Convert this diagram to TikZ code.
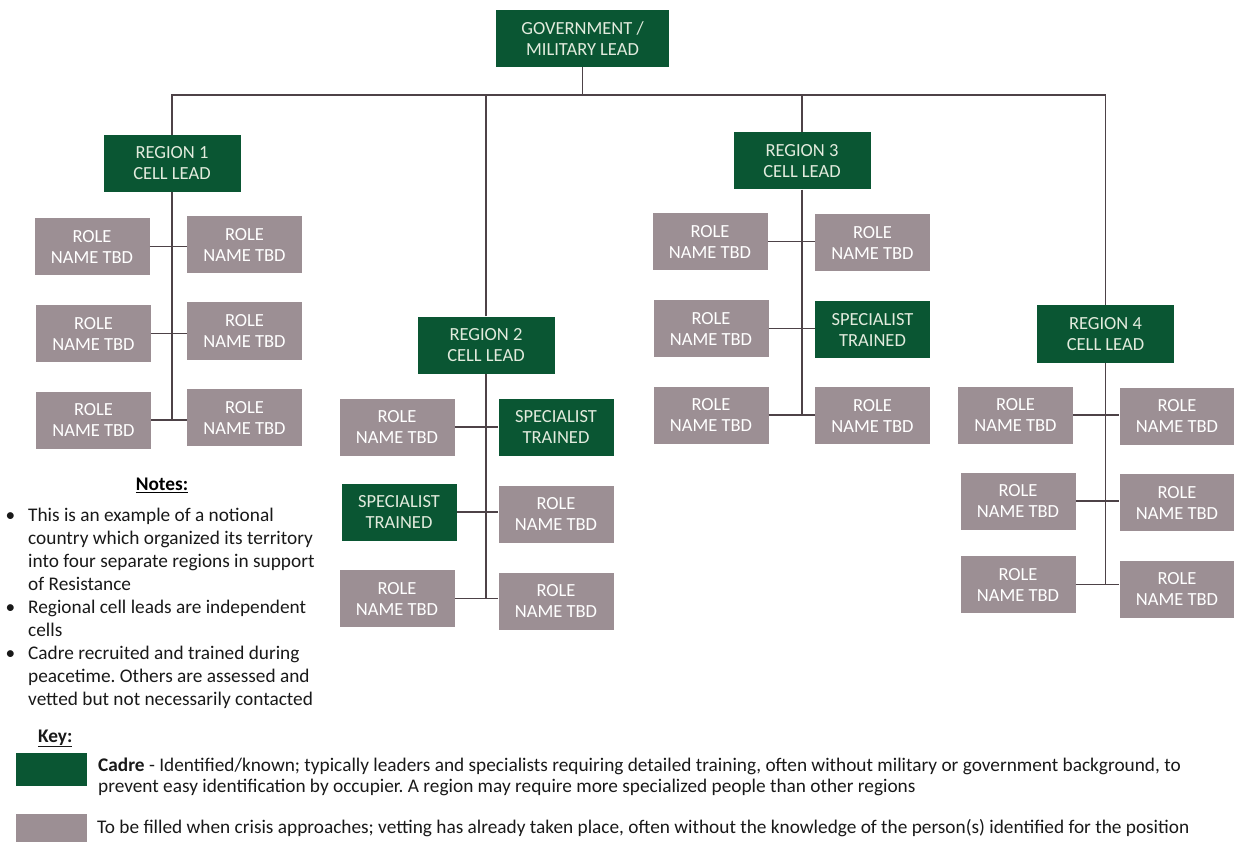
\documentclass[tikz,border=0pt]{standalone}
\usepackage{fontspec}
\setmainfont{Carlito}
\usepackage{tikz}
\definecolor{cadre}{HTML}{0A5633}
\definecolor{tbd}{HTML}{9C8F94}
\definecolor{wirecol}{HTML}{4D4247}
\definecolor{cadretext}{HTML}{E2EBDD}
\newcommand{\rolename}{ROLE\\NAME TBD}
\newcommand{\spectext}{SPECIALIST\\TRAINED}
\newcommand{\notebullet}{\llap{\textbullet\hspace{13pt}}}
\frenchspacing

\begin{document}
\begin{tikzpicture}[x=1pt,y=-1pt]
\tikzstyle{every node}=[inner sep=0pt]
\tikzstyle{lead}=[rectangle,fill=cadre,text=cadretext,minimum width=137pt,minimum height=57pt,align=center,font=\fontsize{18.5}{21}\selectfont]
\tikzstyle{spec}=[lead,minimum width=115pt]
\tikzstyle{role}=[spec,fill=tbd,text=white]
\tikzstyle{wire}=[draw=wirecol,line width=1.7pt]
\tikzstyle{notetext}=[anchor=base west,text=black!90,font=\fontsize{19.3}{23.1}\selectfont]
\useasboundingbox (0,0) rectangle (1234,842);

\node[lead,minimum width=173pt] (gov) at (582.5,38.5) {GOVERNMENT /\\MILITARY LEAD};
\node[lead] (r1) at (172,163.5) {REGION 1\\CELL LEAD};
\node[lead] (r2) at (486,345) {REGION 2\\CELL LEAD};
\node[lead] (r3) at (802,161) {REGION 3\\CELL LEAD};
\node[lead] (r4) at (1105.5,334) {REGION 4\\CELL LEAD};

\node[role] (r1a) at (92,246.5) {\rolename};
\node[role] (r1b) at (244.5,244.5) {\rolename};
\node[role] (r1c) at (93.5,333.5) {\rolename};
\node[role] (r1d) at (244.5,331) {\rolename};
\node[role] (r1e) at (93.5,420) {\rolename};
\node[role] (r1f) at (244.5,417.5) {\rolename};

\node[role] (r2a) at (397,427) {\rolename};
\node[spec] (r2b) at (556,427) {\spectext};
\node[spec] (r2c) at (399,512) {\spectext};
\node[role] (r2d) at (556,514) {\rolename};
\node[role] (r2e) at (397,598.5) {\rolename};
\node[role] (r2f) at (556,601) {\rolename};

\node[role] (r3a) at (710,241.5) {\rolename};
\node[role] (r3b) at (872.5,242.5) {\rolename};
\node[role] (r3c) at (711,328.5) {\rolename};
\node[spec] (r3d) at (872.5,329.5) {\spectext};
\node[role] (r3e) at (711,415) {\rolename};
\node[role] (r3f) at (872.5,415.5) {\rolename};

\node[role] (r4a) at (1015.5,415) {\rolename};
\node[role] (r4b) at (1177,416) {\rolename};
\node[role] (r4c) at (1018,501) {\rolename};
\node[role] (r4d) at (1177,502.5) {\rolename};
\node[role] (r4e) at (1018,584.5) {\rolename};
\node[role] (r4f) at (1177,589) {\rolename};

\coordinate (bus) at (582.5,95);
\draw[wire] (gov.south) -- (gov.south |- bus);
\draw[wire] (r1.north) -- (r1.north |- bus) -| (r4.north);
\draw[wire] (r2.north) -- (r2.north |- bus);
\draw[wire] (r3.north) -- (r3.north |- bus);

\draw[wire] (r1.south) -- (r1.south |- r1e.east);
\draw[wire] (r1a.east) -- (r1a.east -| r1b.west);
\draw[wire] (r1c.east) -- (r1c.east -| r1d.west);
\draw[wire] (r1e.east) -- (r1e.east -| r1f.west);

\draw[wire] (r2.south) -- (r2.south |- r2e.east);
\draw[wire] (r2a.east) -- (r2a.east -| r2b.west);
\draw[wire] (r2c.east) -- (r2c.east -| r2d.west);
\draw[wire] (r2e.east) -- (r2e.east -| r2f.west);

\draw[wire] (r3.south) -- (r3.south |- r3e.east);
\draw[wire] (r3a.east) -- (r3a.east -| r3b.west);
\draw[wire] (r3c.east) -- (r3c.east -| r3d.west);
\draw[wire] (r3e.east) -- (r3e.east -| r3f.west);

\draw[wire] (r4.south) -- (r4.south |- r4e.east);
\draw[wire] (r4a.east) -- (r4a.east -| r4b.west);
\draw[wire] (r4c.east) -- (r4c.east -| r4d.west);
\draw[wire] (r4e.east) -- (r4e.east -| r4f.west);

\node[font=\bfseries\fontsize{19.3}{23}\selectfont] (notes) at (162,485) {\underline{Notes:}};
\node[notetext] (noteslist) at (28,521)
{\begin{tabular}[t]{@{}l@{}}
\notebullet This is an example of a notional\\country which organized its territory\\into four separate regions in support\\of Resistance\\
\notebullet Regional cell leads are independent\\cells\\
\notebullet Cadre recruited and trained during\\peacetime. Others are assessed and\\vetted but not necessarily contacted
\end{tabular}};

\node[notetext,font=\bfseries\fontsize{19.3}{23}\selectfont] (key) at (38,742) {\underline{Key:}};
\node[fill=cadre,minimum width=71pt,minimum height=33pt] (keycadre) at (51.5,769.5) {};
\node[fill=tbd,minimum width=71pt,minimum height=32pt] (keytbd) at (51.5,830) {};
\node[notetext,font=\fontsize{19.3}{21}\selectfont] (cadrenote) at (98,771)
{\begin{tabular}[t]{@{}l@{}}
\textbf{Cadre} - Identified/known; typically leaders and specialists requiring detailed training, often without military or government background, to\\prevent easy identification by occupier. A region may require more specialized people than other regions
\end{tabular}};
\node[notetext] (tbdnote) at (97,833)
{To be filled when crisis approaches; vetting has already taken place, often without the knowledge of the person(s) identified for the position};
\end{tikzpicture}
\end{document}
